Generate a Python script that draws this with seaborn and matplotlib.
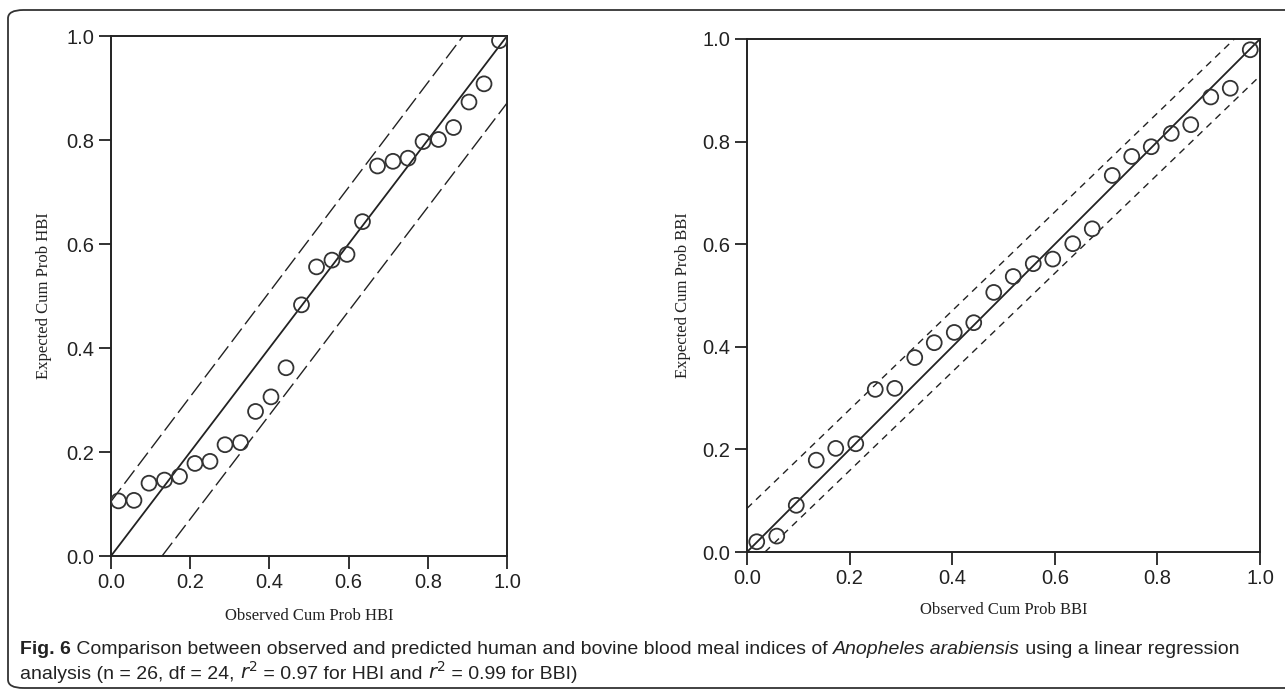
import matplotlib
matplotlib.use("Agg")
import matplotlib.pyplot as plt
from matplotlib.patches import FancyBboxPatch
import seaborn as sns
import pandas as pd

# ---- data ----
obs_hbi = [0.019, 0.058, 0.096, 0.135, 0.173, 0.212, 0.250, 0.288, 0.327, 0.365,
           0.404, 0.442, 0.481, 0.519, 0.558, 0.596, 0.635, 0.673, 0.712, 0.750,
           0.788, 0.827, 0.865, 0.904, 0.942, 0.981]
exp_hbi = [0.106, 0.107, 0.140, 0.146, 0.153, 0.178, 0.182, 0.214, 0.218, 0.278,
           0.306, 0.362, 0.483, 0.556, 0.569, 0.580, 0.643, 0.750, 0.759, 0.765,
           0.797, 0.801, 0.824, 0.873, 0.908, 0.991]
obs_bbi = obs_hbi
exp_bbi = [0.020, 0.031, 0.091, 0.179, 0.202, 0.211, 0.317, 0.319, 0.379, 0.408,
           0.428, 0.447, 0.506, 0.537, 0.562, 0.571, 0.601, 0.630, 0.734, 0.771,
           0.790, 0.816, 0.833, 0.887, 0.904, 0.979]

fit_x = [0.0, 1.0]
fit_y = [0.0, 1.0]
hbi_upper_x = [0.0, 0.889]
hbi_upper_y = [0.105, 1.0]
hbi_lower_x = [0.129, 1.0]
hbi_lower_y = [0.0, 0.871]
bbi_upper_x = [0.0, 0.950]
bbi_upper_y = [0.085, 1.0]
bbi_lower_x = [0.035, 1.0]
bbi_lower_y = [0.0, 0.928]

ticks = [0.0, 0.2, 0.4, 0.6, 0.8, 1.0]
tick_labels = ["0.0", "0.2", "0.4", "0.6", "0.8", "1.0"]
xlabels = ["Observed Cum Prob HBI", "Observed Cum Prob BBI"]
ylabels = ["Expected Cum Prob HBI", "Expected Cum Prob BBI"]

sns.set_style("ticks")
NARROW = ["Liberation Sans Narrow", "Liberation Sans", "DejaVu Sans"]
SERIF = ["Liberation Serif", "DejaVu Serif"]
plt.rcParams["font.family"] = NARROW

ink = "#222222"
W, H = 1285, 695
fig = plt.figure(figsize=(W / 100, H / 100), dpi=100)

# outer rounded frame (right edge runs off the canvas)
frame = FancyBboxPatch((8 / W, 1 - 688 / H), 1.2, (688 - 10) / H,
                       boxstyle="round,pad=0,rounding_size=0.012",
                       transform=fig.transFigure, fill=False,
                       edgecolor="#333333", linewidth=1.3, clip_on=False)
fig.add_artist(frame)

ax1 = fig.add_axes([111 / W, 1 - 556 / H, (507 - 111) / W, (556 - 36) / H])
ax2 = fig.add_axes([747 / W, 1 - 552 / H, (1260 - 747) / W, (552 - 39) / H])

panels = [
    (ax1, obs_hbi, exp_hbi, hbi_upper_x, hbi_upper_y, hbi_lower_x, hbi_lower_y, (12, 4), 10, 12),
    (ax2, obs_bbi, exp_bbi, bbi_upper_x, bbi_upper_y, bbi_lower_x, bbi_lower_y, (5, 4), 8, 10),
]

for i, (ax, ox, ey, ux, uy, lx, ly, dash, ylp, xlp) in enumerate(panels):
    df = pd.DataFrame({"obs": ox, "exp": ey})
    sns.lineplot(x=fit_x, y=fit_y, ax=ax, color=ink, linewidth=1.3)
    sns.lineplot(x=ux, y=uy, ax=ax, color=ink, linewidth=1.0)
    sns.lineplot(x=lx, y=ly, ax=ax, color=ink, linewidth=1.0)
    for ln in ax.lines[1:]:
        ln.set_dashes(list(dash))
    sns.scatterplot(data=df, x="obs", y="exp", ax=ax, marker="o", s=115,
                    facecolor="none", edgecolor="#333333", linewidth=1.3, zorder=3)
    ax.set_xlim(0, 1)
    ax.set_ylim(0, 1)
    ax.set_xticks(ticks)
    ax.set_xticklabels(tick_labels)
    ax.set_yticks(ticks)
    ax.set_yticklabels(tick_labels)
    ax.tick_params(axis="both", direction="out", length=9, width=1.3,
                   colors=ink, labelsize=14.5, pad=3)
    for sp in ax.spines.values():
        sp.set_visible(True)
        sp.set_linewidth(1.4)
        sp.set_color(ink)
    ax.set_xlabel(xlabels[i], fontfamily=SERIF, fontsize=12, color=ink, labelpad=xlp)
    ax.set_ylabel(ylabels[i], fontfamily=SERIF, fontsize=12, color=ink, labelpad=ylp)

# caption with mixed styles
fig.canvas.draw()
renderer = fig.canvas.get_renderer()

def put_pieces(pieces, x_px, y_px, size=14):
    x = x_px
    for text, weight, style in pieces:
        t = fig.text(x / W, 1 - y_px / H, text, fontsize=size,
                     fontweight=weight, fontstyle=style, family=NARROW,
                     color="#222222", va="baseline", ha="left")
        bb = t.get_window_extent(renderer=renderer)
        x += bb.width

put_pieces([
    ("Fig. 6", "bold", "normal"),
    (" Comparison between observed and predicted human and bovine blood meal indices of ", "normal", "normal"),
    ("Anopheles arabiensis", "normal", "italic"),
    (" using a linear regression", "normal", "normal"),
], 20, 654)
put_pieces([
    ("analysis (n = 26, df = 24, ", "normal", "normal"),
    ("$r^2$", "normal", "italic"),
    (" = 0.97 for HBI and ", "normal", "normal"),
    ("$r^2$", "normal", "italic"),
    (" = 0.99 for BBI)", "normal", "normal"),
], 20, 679)

fig.savefig("out.png", dpi=100)
